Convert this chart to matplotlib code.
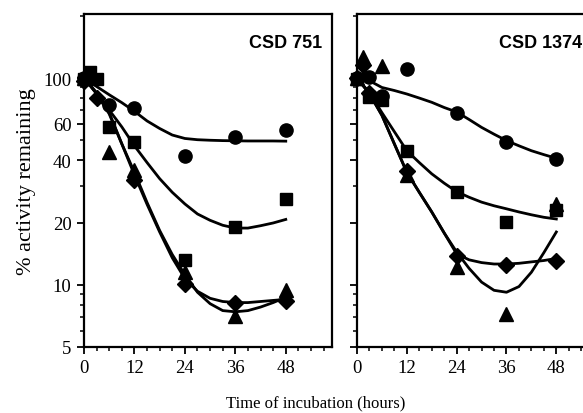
import matplotlib
matplotlib.use("Agg")
import matplotlib.pyplot as plt
from matplotlib.ticker import FixedLocator, LogLocator, MultipleLocator, NullFormatter
import numpy as np

# ---- CSD 751 (left panel) ----
l_circ_t = [0, 6, 12, 24, 36, 48]
l_circ_v = [100, 74, 72, 42, 52, 56]
l_sq_t = [0, 1.5, 3, 6, 12, 24, 36, 48]
l_sq_v = [99, 107, 99, 58, 49, 13.2, 19, 26]
l_tri_t = [0, 6, 12, 24, 36, 48]
l_tri_v = [100, 44, 36, 11.5, 7.1, 9.4]
l_dia_t = [0, 3, 12, 24, 36, 48]
l_dia_v = [97, 80, 32, 10.1, 8.2, 8.3]

# fitted curves
curve_t = [0, 3, 6, 9, 12, 15, 18, 21, 24, 27, 30, 33, 36, 39, 42, 45, 48]
l_circ_fit = [100, 91, 83, 76, 69, 62, 57, 53, 51, 50.3, 50, 49.8, 49.7, 49.6, 49.6, 49.6, 49.5]
l_sq_fit = [100, 85, 70, 58, 47, 39, 32.6, 28, 24.6, 22, 20.5, 19.4, 18.8, 18.8, 19.3, 19.9, 20.7]
l_tri_fit = [100, 84, 67, 48, 35, 25, 18.3, 14, 11.2, 9.2, 8.1, 7.5, 7.4, 7.5, 7.8, 8.2, 8.7]
l_dia_fit = [100, 84, 68, 48, 34, 24.5, 18, 13.5, 10.7, 9.3, 8.6, 8.3, 8.2, 8.2, 8.3, 8.4, 8.5]

# ---- CSD 1374 (right panel) ----
r_circ_t = [0, 3, 6, 12, 24, 36, 48]
r_circ_v = [100, 101, 82, 111, 68, 49, 40.6]
r_sq_t = [0, 3, 6, 12, 24, 36, 48]
r_sq_v = [99, 81, 78, 44.5, 28, 20.2, 23.1]
r_tri_t = [0, 1.5, 6, 12, 24, 36, 48]
r_tri_v = [100, 126, 114, 34, 12.2, 7.2, 24.6]
r_dia_t = [0, 1.5, 3, 12, 24, 36, 48]
r_dia_v = [100, 115, 85, 35.6, 13.8, 12.4, 13.1]

r_circ_fit = [100, 97, 90, 87, 83.7, 80, 76.3, 72, 68.5, 63, 57.7, 53.5, 49.8, 47, 44.5, 42.6, 40.9]
r_sq_fit = [100, 85, 68, 55, 44.5, 39, 34.4, 31, 28.2, 26.5, 25.1, 24.1, 23.3, 22.5, 21.8, 21.2, 20.8]
r_tri_fit = [100, 84, 66, 48, 35, 28, 22.5, 17.8, 14.4, 12, 10.3, 9.4, 9.2, 9.8, 11.5, 14.3, 18]
r_dia_fit = [100, 84, 66, 48, 35, 28, 22.5, 17.8, 14.1, 13.2, 12.8, 12.6, 12.6, 12.7, 12.9, 13.1, 13.4]

yticks = [5, 10, 20, 40, 60, 100]
xticks = [0, 12, 24, 36, 48]

serif = "Liberation Serif"
plt.rcParams["font.family"] = serif

fig = plt.figure(figsize=(5.83, 4.14), dpi=100)
ax1 = fig.add_axes([84 / 583, 66 / 414, 248 / 583, 333 / 414])
ax2 = fig.add_axes([357 / 583, 66 / 414, 245 / 583, 333 / 414])

panels = [
    (ax1, "CSD 751", 0.96,
     [(l_circ_t, l_circ_v, l_circ_fit, "o", 9.5),
      (l_sq_t, l_sq_v, l_sq_fit, "s", 9.0),
      (l_tri_t, l_tri_v, l_tri_fit, "^", 9.5),
      (l_dia_t, l_dia_v, l_dia_fit, "D", 8.5)]),
    (ax2, "CSD 1374", 0.918,
     [(r_circ_t, r_circ_v, r_circ_fit, "o", 9.5),
      (r_sq_t, r_sq_v, r_sq_fit, "s", 9.0),
      (r_tri_t, r_tri_v, r_tri_fit, "^", 9.5),
      (r_dia_t, r_dia_v, r_dia_fit, "D", 8.5)]),
]

for ax, title, tx, series in panels:
    for t, v, fit, mk, ms in series:
        ax.plot(curve_t, fit, color="black", lw=2.0, zorder=2)
        ax.plot(t, v, linestyle="none", marker=mk, markersize=ms,
                color="black", zorder=3, clip_on=False)
    ax.set_yscale("log")
    ax.set_ylim(5, 204)
    ax.set_xlim(0, 59)
    ax.yaxis.set_major_locator(FixedLocator(yticks))
    ax.yaxis.set_minor_locator(LogLocator(base=10, subs=np.arange(1, 10)))
    ax.yaxis.set_minor_formatter(NullFormatter())
    ax.set_yticklabels([str(y) for y in yticks])
    ax.xaxis.set_major_locator(FixedLocator(xticks))
    ax.xaxis.set_minor_locator(MultipleLocator(3))
    ax.tick_params(which="major", direction="out", length=5, width=1.3,
                   labelsize=13.5, pad=4)
    ax.tick_params(which="minor", direction="out", length=3, width=1.1)
    for sp in ax.spines.values():
        sp.set_linewidth(1.6)
    ax.text(tx, 0.914, title, transform=ax.transAxes, ha="right", va="center",
            fontsize=13, fontweight="bold", family="Liberation Sans")

ax2.tick_params(axis="y", which="both", labelleft=False)

ax1.set_ylabel("% activity remaining", fontsize=16, labelpad=5)
fig.text(316 / 583, 1 - 403 / 414, "Time of incubation (hours)",
         ha="center", va="center", fontsize=12)

fig.savefig("out.png", dpi=100)
